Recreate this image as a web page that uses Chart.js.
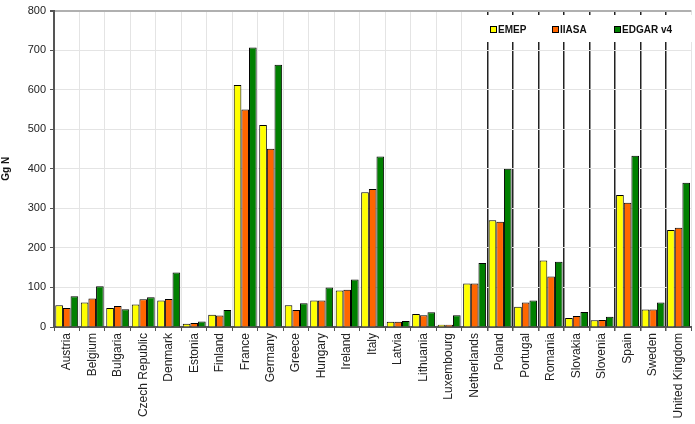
<!DOCTYPE html>
<html>
<head>
<meta charset="utf-8">
<script src="https://cdn.jsdelivr.net/npm/chart.js@4/dist/chart.umd.min.js"></script>
<style>
html,body{margin:0;padding:0;background:#fff;}
#wrap{width:695px;height:424px;}
</style>
</head>
<body>
<div id="wrap"><canvas id="c" width="695" height="424"></canvas></div>
<script>
const countries = ["Austria","Belgium","Bulgaria","Czech Republic","Denmark","Estonia","Finland","France","Germany","Greece","Hungary","Ireland","Italy","Latvia","Lithuania","Luxembourg","Netherlands","Poland","Portugal","Romania","Slovakia","Slovenia","Spain","Sweden","United Kingdom"];
const emep  = [55,62,48,57,67,8,31,612,511,55,67,92,341,13,33,6,110,270,51,168,23,17,334,44,245];
const iiasa = [48,72,53,70,71,10,29,550,451,43,67,94,349,13,30,6,110,266,62,128,28,18,314,44,251];
const edgar = [78,103,45,75,138,14,43,707,663,60,100,120,431,15,37,30,162,400,67,165,38,26,433,62,365];
const seriesNames = ["EMEP","IIASA","EDGAR v4"];
const yTicks = [0,100,200,300,400,500,600,700,800];

const colors = ["#ffff00","#ff6600","#008000"];
const FONT = "'Liberation Sans', Arial, sans-serif";

const legendPlugin = {
  id: 'boxLegend',
  afterDraw(chart) {
    const ctx = chart.ctx;
    ctx.save();
    ctx.fillStyle = '#fff';
    ctx.fillRect(486, 15, 207, 27);
    const xs = [490, 552, 614];
    ctx.font = "bold 10px " + FONT;
    ctx.textBaseline = 'middle';
    chart.data.datasets.forEach((ds, i) => {
      ctx.fillStyle = ds.backgroundColor;
      ctx.fillRect(xs[i] + 0.5, 26.5, 6, 6);
      ctx.strokeStyle = '#000';
      ctx.lineWidth = 1;
      ctx.strokeRect(xs[i] + 0.5, 26.5, 6, 6);
      ctx.fillStyle = '#111';
      ctx.textAlign = 'left';
      ctx.fillText(ds.label, xs[i] + 8, 30);
    });
    ctx.restore();
  }
};

new Chart(document.getElementById('c'), {
  type: 'bar',
  data: {
    labels: countries,
    datasets: [emep, iiasa, edgar].map((d, i) => ({
      label: seriesNames[i],
      data: d,
      backgroundColor: colors[i],
      borderColor: '#000',
      borderWidth: 1,
      categoryPercentage: 0.9,
      barPercentage: 1.0
    }))
  },
  options: {
    responsive: false,
    animation: false,
    layout: { padding: { top: 8, right: 1, left: 0, bottom: 0 } },
    plugins: { legend: { display: false }, tooltip: { enabled: false } },
    scales: {
      x: {
        afterFit(s) { s.height = 97; },
        grid: {
          offset: true,
          color(ctx) { return (ctx.index >= 17 && ctx.index <= 24) ? '#222' : '#e4e4e4'; },
          lineWidth(ctx) { return (ctx.index >= 17 && ctx.index <= 24) ? 1.5 : 1; },
          tickColor: '#555',
          tickLength: 4
        },
        border: { color: '#555', width: 2 },
        ticks: {
          autoSkip: false,
          maxRotation: 90,
          minRotation: 90,
          padding: 2,
          color: '#222',
          font: { family: FONT, size: 12 }
        }
      },
      y: {
        z: -1,
        min: 0,
        max: 800,
        afterFit(s) { s.width = 54; },
        afterBuildTicks(s) { s.ticks = yTicks.map(v => ({ value: v })); },
        grid: {
          color(ctx) { return ctx.index === 8 ? '#b0b0b0' : '#e4e4e4'; },
          lineWidth(ctx) { return ctx.index === 8 ? 2 : 1; },
          tickColor: '#555',
          tickLength: 4
        },
        border: { color: '#555', width: 2 },
        ticks: {
          padding: 4,
          color: '#222',
          font: { family: FONT, size: 11 }
        },
        title: {
          display: true,
          text: 'Gg N',
          color: '#111',
          font: { family: FONT, size: 10, weight: 'bold' },
          padding: { top: 0, bottom: 0 }
        }
      }
    }
  },
  plugins: [legendPlugin]
});
</script>
</body>
</html>
